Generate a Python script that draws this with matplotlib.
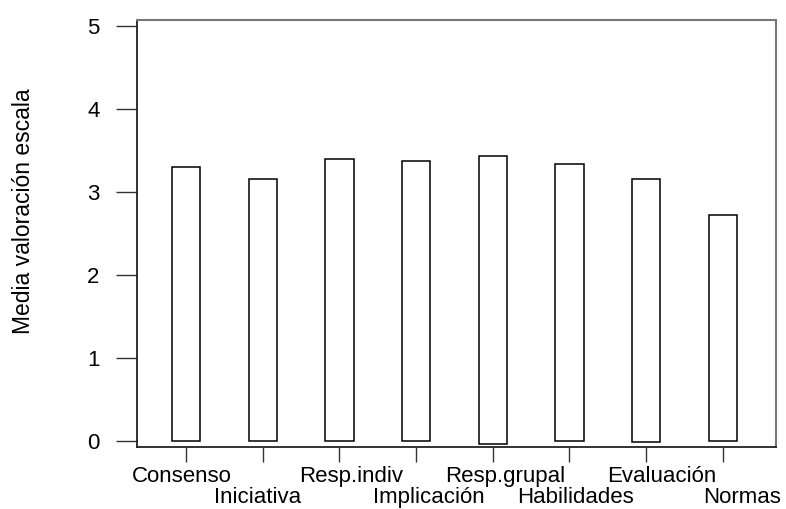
import matplotlib
matplotlib.use("Agg")
import matplotlib.pyplot as plt

categories = ["Consenso", "Iniciativa", "Resp.indiv", "Implicación",
              "Resp.grupal", "Habilidades", "Evaluación", "Normas"]
means = [3.30, 3.15, 3.40, 3.37, 3.43, 3.33, 3.15, 2.72]
bottoms = [0.0, 0.0, 0.0, 0.0, -0.035, 0.0, -0.02, 0.0]
yticks = [0, 1, 2, 3, 4, 5]

plt.rcParams['font.family'] = ['Liberation Sans', 'DejaVu Sans']

fig = plt.figure(figsize=(7.86, 5.09), dpi=100)
ax = fig.add_axes([137/786, 1-447/509, (776-137)/786, (447-20)/509])

x = list(range(len(categories)))
heights = [m - b for m, b in zip(means, bottoms)]
ax.bar(x, heights, bottom=bottoms, width=0.37, facecolor='white',
       edgecolor='black', linewidth=1.1)

ax.set_xlim(-0.64, 7.695)
ax.set_ylim(-0.075, 5.069)
ax.set_yticks(yticks)
ax.set_yticklabels([str(t) for t in yticks], fontsize=16)
ax.set_xticks(x)
ax.set_xticklabels([])

ax.tick_params(axis='y', length=15, width=1, color='#333333', pad=12)
ax.tick_params(axis='x', length=11, width=1, color='#333333', pad=4)

# staggered category labels (two rows), with slight horizontal offsets as in the reference
offsets_px = [-4, -5, 12, 13, 12, 6, 16, 19]
row_baseline_px = [35, 56]
for i, (cat, off) in enumerate(zip(categories, offsets_px)):
    ax.annotate(cat, xy=(i, 0), xycoords=('data', 'axes fraction'),
                xytext=(off * 0.72, -row_baseline_px[i % 2] * 0.72),
                textcoords='offset points', ha='center', va='baseline',
                fontsize=16, annotation_clip=False)

for side in ['left', 'bottom']:
    ax.spines[side].set_color('#222222')
    ax.spines[side].set_linewidth(1.3)
for side in ['top', 'right']:
    ax.spines[side].set_color('#777777')
    ax.spines[side].set_linewidth(1.5)

fig.text(24/786, 1-211/509, "Media valoración escala", rotation=90,
         fontsize=16.5, ha='center', va='center')

fig.savefig("out.png", dpi=100, facecolor='white')
